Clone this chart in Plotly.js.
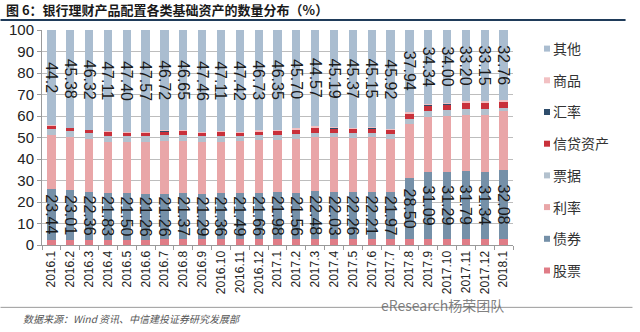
<!DOCTYPE html>
<html>
<head>
<meta charset="utf-8">
<script src="https://cdn.plot.ly/plotly-3.0.1.min.js"></script>
<style>
  html, body { margin: 0; padding: 0; background: #fff; }
  #chart { width: 640px; height: 332px; }
</style>
</head>
<body>
<div id="chart"></div>
<script>
// ---- data ----
const categories = ["2016.1","2016.2","2016.3","2016.4","2016.5","2016.6","2016.7","2016.8","2016.9","2016.10","2016.11","2016.12",
  "2017.1","2017.2","2017.3","2017.4","2017.5","2017.6","2017.7","2017.8","2017.9","2017.10","2017.11","2017.12","2018.1"];

const stocks   = [2.5,2.4,2.5,2.5,2.5,2.5,2.6,2.7,2.6,2.6,2.6,2.6,2.6,2.6,2.6,2.6,2.6,2.6,2.6,2.7,2.8,2.8,2.8,2.8,2.8];
const bonds    = [23.44,23.01,22.36,21.83,21.50,21.26,21.26,21.37,21.29,21.36,21.49,21.66,21.98,21.56,22.48,22.03,22.26,22.21,21.97,28.50,31.09,31.29,31.79,31.34,32.08];
const rates    = [25.16,24.61,24.22,23.76,23.80,23.97,24.52,24.28,23.95,24.13,24.19,24.41,24.27,25.14,25.15,25.38,25.07,25.34,24.91,25.16,25.77,25.91,25.71,26.31,27.26];
const bills    = [2.9,3.0,2.9,2.8,2.8,2.8,2.8,2.7,2.7,2.7,2.6,2.5,2.3,2.2,2.0,2.0,2.0,2.0,2.0,2.4,2.6,2.6,3.0,2.6,1.4];
const credit   = [1.4,1.3,1.3,1.6,1.6,1.5,1.6,1.8,1.6,1.6,1.2,1.5,1.8,1.9,2.3,2.1,2.0,2.0,2.1,2.3,2.6,2.7,2.8,2.8,3.0];
const fx       = [0.1,0.1,0.1,0.1,0.1,0.1,0.1,0.1,0.1,0.1,0.1,0.1,0.1,0.1,0.1,0.1,0.1,0.1,0.1,0.1,0.1,0.1,0.1,0.1,0.1];
const goods    = [0.3,0.2,0.3,0.3,0.3,0.3,0.4,0.4,0.3,0.4,0.4,0.5,0.6,0.8,0.8,0.6,0.6,0.6,0.4,0.9,0.7,0.6,0.6,0.9,0.6];
const others   = [44.2,45.38,46.32,47.11,47.40,47.57,46.72,46.65,47.46,47.11,47.42,46.73,46.35,45.70,44.57,45.19,45.37,45.15,45.92,37.94,34.34,34.00,33.20,33.15,32.76];

const bondLabels  = ["23.44","23.01","22.36","21.83","21.50","21.26","21.26","21.37","21.29","21.36","21.49","21.66","21.98","21.56","22.48","22.03","22.26","22.21","21.97","28.50","31.09","31.29","31.79","31.34","32.08"];
const otherLabels = ["44.2","45.38","46.32","47.11","47.40","47.57","46.72","46.65","47.46","47.11","47.42","46.73","46.35","45.70","44.57","45.19","45.37","45.15","45.92","37.94","34.34","34.00","33.20","33.15","32.76"];

const seriesNames  = ["股票","债券","利率","票据","信贷资产","汇率","商品","其他"];
const seriesValues = [stocks, bonds, rates, bills, credit, fx, goods, others];
const seriesLabels = [null, bondLabels, null, null, null, null, null, otherLabels];
const seriesColors = ["#e07c86","#7590a8","#e9a6a8","#b3c1ce","#c9303a","#2e4d6b","#f2c0c2","#aabdd0"];

const titleText  = "图 6：银行理财产品配置各类基础资产的数量分布（%）";
const sourceText = "数据来源：Wind 资讯、中信建投证券研究发展部";
const watermark  = "eResearch杨荣团队";

// ---- traces ----
const traces = seriesNames.map((name, i) => {
  const t = {
    type: "bar",
    name: name,
    x: categories,
    y: seriesValues[i],
    marker: { color: seriesColors[i], line: { width: 0 } },
    legendgroup: "g" + i,
    legendrank: seriesNames.length - i,
    hoverinfo: "skip"
  };
  if (seriesLabels[i]) {
    t.text = seriesLabels[i];
    t.texttemplate = "%{text}";
    t.textposition = "inside";
    t.insidetextanchor = "middle";
    t.textangle = 90;
    t.constraintext = "none";
    t.insidetextfont = { family: "Liberation Sans, Arial, sans-serif", size: 16, color: "#1a1a1a" };
  } else {
    t.textposition = "none";
  }
  return t;
});

// geometry helpers (plot area in px)
const L = 42, R = 519, T = 30, B = 245.5;
const W = R - L, H = B - T;
const px = v => (v - L) / W;
const py = v => (B - v) / H;

const layout = {
  width: 640, height: 332,
  margin: { l: L, r: 640 - R, t: T, b: 332 - B },
  paper_bgcolor: "#ffffff",
  plot_bgcolor: "#ffffff",
  barmode: "stack",
  bargap: 0.56,
  font: { family: "Liberation Sans, Arial, 'Noto Sans CJK SC', sans-serif", color: "#222" },
  title: {
    text: titleText,
    font: { family: "'Noto Sans CJK SC', sans-serif", size: 13, color: "#1a1a1a", weight: "bold" },
    xref: "container", x: 6 / 640, xanchor: "left",
    yref: "container", y: 1 - 10 / 332, yanchor: "middle"
  },
  xaxis: {
    type: "category",
    tickangle: -90,
    tickfont: { family: "Liberation Sans, Arial, sans-serif", size: 12, color: "#222" },
    ticks: "outside", tickson: "boundaries", ticklen: 4, tickcolor: "#9a9a9a",
    showline: true, linecolor: "#9a9a9a", linewidth: 1,
    showgrid: false, fixedrange: true
  },
  yaxis: {
    range: [0, 100], dtick: 10,
    tickfont: { family: "Liberation Sans, Arial, sans-serif", size: 15, color: "#222" },
    ticks: "outside", ticklen: 4, tickcolor: "#9a9a9a",
    showline: true, linecolor: "#9a9a9a", linewidth: 1,
    gridcolor: "#bdbdbd", gridwidth: 1,
    zeroline: false, fixedrange: true
  },
  showlegend: true,
  legend: {
    traceorder: "grouped",
    tracegroupgap: 10.5,
    xref: "container", yref: "container",
    x: 513 / 640, xanchor: "left",
    y: 1 - 33 / 332, yanchor: "top",
    maxheight: 320,
    font: { family: "'Noto Sans CJK SC', sans-serif", size: 14, color: "#333" },
    bgcolor: "rgba(0,0,0,0)", borderwidth: 0
  },
  shapes: [
    { type: "line", xref: "paper", yref: "paper", x0: px(0), x1: px(633), y0: py(20), y1: py(20),
      line: { color: "#1f3b5a", width: 2 } },
    { type: "line", xref: "paper", yref: "paper", x0: px(0), x1: px(640), y0: py(308), y1: py(308),
      line: { color: "#9a9a9a", width: 1 } }
  ],
  annotations: [
    { text: sourceText, xref: "paper", yref: "paper", x: px(21), y: py(319), xanchor: "left", yanchor: "middle",
      showarrow: false, font: { family: "'Noto Sans CJK SC', sans-serif", size: 10, color: "#555", style: "italic" } },
    { text: watermark, xref: "paper", yref: "paper", x: px(383), y: py(306), xanchor: "left", yanchor: "middle",
      showarrow: false, font: { family: "'Noto Sans CJK SC', sans-serif", size: 14, color: "rgba(95,95,95,0.8)" } }
  ]
};

Plotly.newPlot("chart", traces, layout, { staticPlot: true, displayModeBar: false }).then(() => {
  document.querySelectorAll(".legend .legendpoints path").forEach(p => {
    const t = p.getAttribute("transform") || "";
    p.setAttribute("transform", t + " translate(14,0) scale(0.5)");
  });
});
</script>
</body>
</html>
